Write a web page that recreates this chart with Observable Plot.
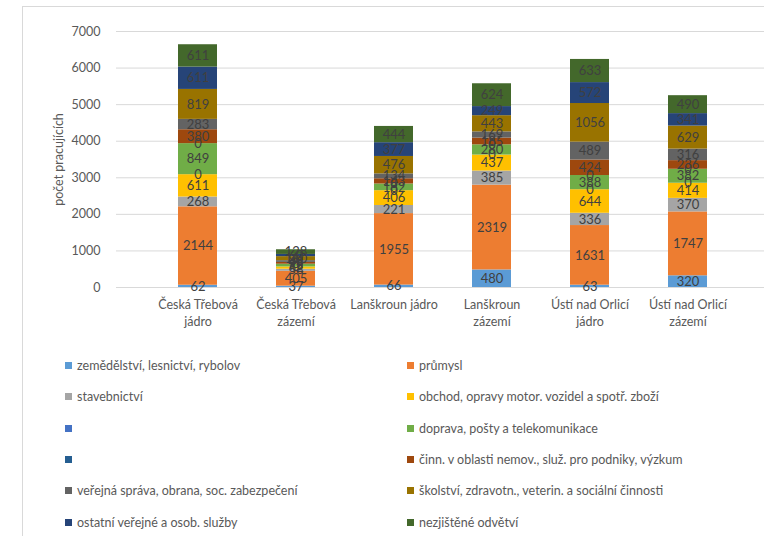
<!DOCTYPE html>
<html><head><meta charset="utf-8">
<script src="https://cdn.jsdelivr.net/npm/d3@7"></script>
<script src="https://cdn.jsdelivr.net/npm/@observablehq/plot@0.6"></script>
<style>
body{margin:0;background:#fff;font-family:Lato,"Liberation Sans",sans-serif;}
#wrap{position:relative;width:764px;height:536px;overflow:hidden;}
#frame{position:absolute;left:22px;top:6px;width:760px;height:560px;border:1px solid #d9d9d9;}
#chart{position:absolute;left:0;top:0;}
#legend{position:absolute;left:65px;top:350px;display:grid;grid-template-columns:342px 342px;grid-auto-rows:31.3px;font-size:12.5px;color:#595959;}
.item{display:flex;align-items:center;height:31.3px;white-space:nowrap;}
.sw{width:7px;height:7px;margin-right:5px;flex:none;}
</style></head>
<body><div id="wrap"><div id="frame"></div><div id="chart"></div><div id="legend"></div></div>
<script>
const categories = ["Česká Třebová jádro","Česká Třebová zázemí","Lanškroun jádro","Lanškroun zázemí","Ústí nad Orlicí jádro","Ústí nad Orlicí zázemí"];
const tickLabels = ["Česká Třebová\njádro","Česká Třebová\nzázemí","Lanškroun jádro","Lanškroun\nzázemí","Ústí nad Orlicí\njádro","Ústí nad Orlicí\nzázemí"];
const seriesNames = ["zemědělství, lesnictví, rybolov","průmysl","stavebnictví","obchod, opravy motor. vozidel a spotř. zboží","","doprava, pošty a telekomunikace","","činn. v oblasti nemov., služ. pro podniky, výzkum","veřejná správa, obrana, soc. zabezpečení","školství, zdravotn., veterin. a sociální činnosti","ostatní veřejné a osob. služby","nezjištěné odvětví"];
const seriesColors = ["#5B9BD5","#ED7D31","#A5A5A5","#FFC000","#4472C4","#70AD47","#255E91","#9E480E","#636363","#997300","#264478","#43682B"];
// values per series, in category order
const zemedelstvi = [62, 37, 66, 480, 63, 320];
const prumysl = [2144, 405, 1955, 2319, 1631, 1747];
const stavebnictvi = [268, 58, 221, 385, 336, 370];
const obchod = [611, 62, 406, 437, 644, 414];
const prazdna1 = [0, 0, 0, 0, 0, 0];
const doprava = [849, 75, 182, 280, 388, 382];
const prazdna2 = [0, 0, 0, 0, 0, 0];
const nemovitosti = [380, 49, 143, 185, 424, 236];
const verejnaSprava = [283, 48, 134, 169, 489, 316];
const skolstvi = [819, 110, 476, 443, 1056, 629];
const ostatni = [611, 60, 377, 249, 572, 341];
const nezjistene = [611, 128, 444, 624, 633, 490];
const seriesValues = [zemedelstvi, prumysl, stavebnictvi, obchod, prazdna1, doprava, prazdna2, nemovitosti, verejnaSprava, skolstvi, ostatni, nezjistene];
const yTicks = [0,1000,2000,3000,4000,5000,6000,7000];

const keys = seriesNames.map((_, i) => "s" + i);
const data = [];
seriesValues.forEach((vals, si) => vals.forEach((v, ci) => data.push({cat: categories[ci], key: keys[si], value: v})));
const tickMap = new Map(categories.map((c, i) => [c, tickLabels[i]]));

const chart = Plot.plot({
  width: 764, height: 340,
  marginTop: 31, marginBottom: 53, marginLeft: 116, marginRight: 0,
  style: {fontFamily: "Lato, 'Liberation Sans', sans-serif", fontSize: "12.5px", color: "#595959", background: "transparent"},
  x: {domain: categories, range: [117, 769], padding: 0.6, label: null},
  y: {domain: [0, 7000], label: null},
  color: {domain: keys, range: seriesColors},
  marks: [
    Plot.ruleY(yTicks, {stroke: "#d9d9d9", strokeWidth: 1}),
    Plot.axisY({ticks: yTicks, tickSize: 0, tickPadding: 16, tickFormat: d => String(d), label: "počet pracujících", labelAnchor: "center", labelArrow: "none", labelOffset: 62, fill: "#595959", fontSize: 12.5}),
    Plot.axisX({tickSize: 0, tickPadding: 10, tickFormat: d => tickMap.get(d), lineHeight: 1.35, fill: "#595959", fontSize: 12.5}),
    Plot.barY(data, {x: "cat", y: "value", fill: "key", order: keys}),
    Plot.text(data, Plot.stackY({x: "cat", y: "value", z: "key", order: keys, text: d => String(d.value), fill: "#404040", fontSize: 13}))
  ]
});
document.getElementById("chart").appendChild(chart);

const legend = document.getElementById("legend");
seriesNames.forEach((name, i) => {
  const it = document.createElement("div"); it.className = "item";
  const sw = document.createElement("span"); sw.className = "sw"; sw.style.background = seriesColors[i];
  const tx = document.createElement("span"); tx.textContent = name;
  it.appendChild(sw); it.appendChild(tx); legend.appendChild(it);
});
</script></body></html>
